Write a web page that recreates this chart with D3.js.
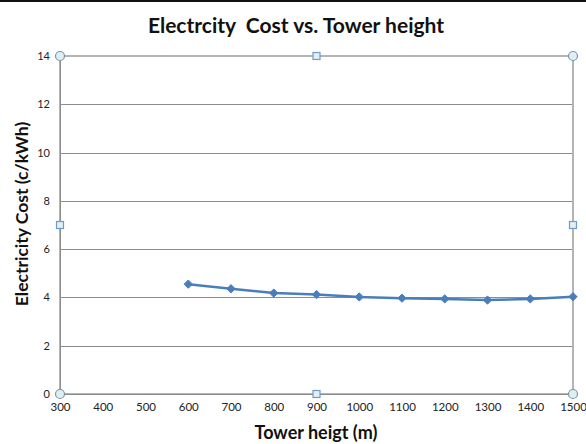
<!DOCTYPE html>
<html>
<head>
<meta charset="utf-8">
<script src="https://cdn.jsdelivr.net/npm/d3@7"></script>
<style>
	body { margin: 0; background: #fff; }
	svg { display: block; }
	text { font-family: Lato, "Open Sans", sans-serif; white-space: pre; }
</style>
</head>
<body>
<svg id="graphContainer" width="586" height="444"></svg>
<script>
var towerHeights = [600, 700, 800, 900, 1000, 1100, 1200, 1300, 1400, 1500];
var costValues = [4.55, 4.36, 4.18, 4.12, 4.02, 3.97, 3.94, 3.89, 3.94, 4.03];
var xTicks = [300, 400, 500, 600, 700, 800, 900, 1000, 1100, 1200, 1300, 1400, 1500];
var yTicks = [0, 2, 4, 6, 8, 10, 12, 14];

var chartTitle = 'Electrcity  Cost vs. Tower height';
var xTitle = 'Tower heigt (m)';
var yTitle = 'Electricity Cost (c/kWh)';

var plot = { left: 60, right: 573, top: 56, bottom: 394 };

var svg = d3.select('#graphContainer');

// black strip at top of the screenshot
svg.append('rect')
	.attr('x', 0).attr('y', 0)
	.attr('width', 586).attr('height', 2)
	.attr('fill', '#111');

var xRange = d3.scaleLinear().domain([300, 1500]).range([plot.left, plot.right]);
var yRange = d3.scaleLinear().domain([0, 14]).range([plot.bottom, plot.top]);

// gridlines
svg.append('g')
	.selectAll('line')
	.data(yTicks.filter(function(d) { return d > 0 && d < 14; }))
	.enter()
	.append('line')
	.attr('x1', plot.left).attr('x2', plot.right)
	.attr('y1', function(d) { return Math.round(yRange(d)) + 0.5; })
	.attr('y2', function(d) { return Math.round(yRange(d)) + 0.5; })
	.attr('stroke', '#8c8c8c')
	.attr('stroke-width', 1);

// plot area outline (selected)
svg.append('rect')
	.attr('x', plot.left).attr('y', plot.top)
	.attr('width', plot.right - plot.left)
	.attr('height', plot.bottom - plot.top)
	.attr('fill', 'none')
	.attr('stroke', '#b4b4b4')
	.attr('stroke-width', 2);

// axes
var xAxis = d3.axisBottom(xRange).tickValues(xTicks).tickFormat(d3.format('d')).tickSize(0).tickPadding(9);
svg.append('g')
	.attr('transform', 'translate(0,' + plot.bottom + ')')
	.call(xAxis)
	.call(function(g) {
		g.select('.domain').attr('stroke', '#8c8c8c');
		g.selectAll('text').attr('font-size', 11.5).attr('fill', '#222')
			.style('font-family', 'Lato, "Open Sans", sans-serif');
	});

var yAxis = d3.axisLeft(yRange).tickValues(yTicks).tickSize(0).tickPadding(10);
svg.append('g')
	.attr('transform', 'translate(' + plot.left + ',0)')
	.call(yAxis)
	.call(function(g) {
		g.select('.domain').attr('stroke', '#8c8c8c');
		g.selectAll('text').attr('font-size', 11).attr('fill', '#222')
			.style('font-family', 'Lato, "Open Sans", sans-serif');
	});

// series
var line = d3.line()
	.x(function(d, i) { return xRange(towerHeights[i]); })
	.y(function(d) { return yRange(d); });

svg.append('path')
	.datum(costValues)
	.attr('d', line)
	.attr('fill', 'none')
	.attr('stroke', '#4a7ebb')
	.attr('stroke-width', 2.5)
	.attr('stroke-linejoin', 'round');

svg.append('g')
	.selectAll('path')
	.data(costValues)
	.enter()
	.append('path')
	.attr('d', d3.symbol().type(d3.symbolDiamond2).size(44))
	.attr('transform', function(d, i) {
		return 'translate(' + xRange(towerHeights[i]) + ',' + yRange(d) + ')';
	})
	.attr('fill', '#4a7ebb')
	.attr('stroke', '#4a7ebb')
	.attr('stroke-width', 1);

// selection handles
var midX = (plot.left + plot.right) / 2;
var midY = (plot.top + plot.bottom) / 2;
var cornerHandles = [[plot.left, plot.top], [plot.right, plot.top], [plot.left, plot.bottom], [plot.right, plot.bottom]];
var sideHandles = [[midX, plot.top], [midX, plot.bottom], [plot.left, midY], [plot.right, midY]];

svg.append('g')
	.selectAll('circle')
	.data(cornerHandles)
	.enter()
	.append('circle')
	.attr('cx', function(d) { return d[0]; })
	.attr('cy', function(d) { return d[1]; })
	.attr('r', 4.5)
	.attr('fill', '#dfeef3')
	.attr('stroke', '#7c95a6')
	.attr('stroke-width', 1.2);

svg.append('g')
	.selectAll('rect')
	.data(sideHandles)
	.enter()
	.append('rect')
	.attr('x', function(d) { return d[0] - 3.5; })
	.attr('y', function(d) { return d[1] - 3.5; })
	.attr('width', 7).attr('height', 7)
	.attr('fill', '#e2eff7')
	.attr('stroke', '#6f9cc4')
	.attr('stroke-width', 1.2);

// titles
svg.append('text')
	.attr('x', 296).attr('y', 33)
	.attr('text-anchor', 'middle')
	.attr('font-size', 21)
	.attr('font-weight', 'bold')
	.attr('fill', '#111')
	.text(chartTitle);

svg.append('text')
	.attr('x', 316).attr('y', 439)
	.attr('text-anchor', 'middle')
	.attr('font-size', 18)
	.attr('font-weight', 'bold')
	.attr('fill', '#111')
	.text(xTitle);

svg.append('text')
	.attr('transform', 'translate(28,' + 214 + ') rotate(-90)')
	.attr('text-anchor', 'middle')
	.attr('font-size', 17.5)
	.attr('font-weight', 'bold')
	.attr('fill', '#111')
	.text(yTitle);
</script>
</body>
</html>
